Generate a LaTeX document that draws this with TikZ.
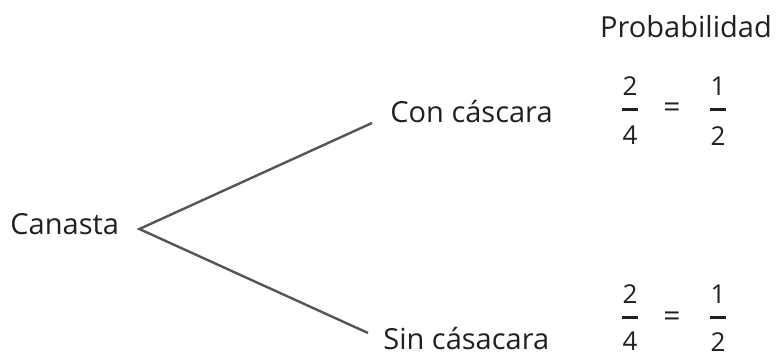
\documentclass[tikz,border=0pt]{standalone}
\usepackage{fontspec}
\setmainfont{Open Sans}
\usetikzlibrary{calc,positioning}
\definecolor{ctext}{HTML}{231F20}
\definecolor{cline}{HTML}{555555}

\begin{document}
\begin{tikzpicture}[
  x=0.5pt,y=-0.5pt,
  font=\fontsize{14.5}{17}\selectfont,
  lbl/.style={inner sep=0pt,text=ctext,anchor=base west},
  dig/.style={inner sep=0pt,text=ctext,font=\fontsize{13}{15}\selectfont},
  bar/.style={inner sep=0pt,fill=ctext,minimum width=8pt,minimum height=1.5pt},
  branch/.style={line width=1.2pt,cline}]
  \useasboundingbox (0,0) rectangle (776,357);
  % tree labels
  \node[lbl] (canasta) at (10,235) {Canasta};
  \node[lbl] (con) at (390,123) {Con cáscara};
  \node[lbl] (sin) at (383,350) {Sin cásacara};
  \node[lbl,anchor=base] (prob) at (686,38) {Probabilidad};
  % branches
  \coordinate (root) at ($(canasta.base east)+(20,-6)$);
  \draw[branch] ($(con.base west)+(-18,0)$) -- (root) -- ($(sin.base west)+(-15,-17)$);
  % upper probability
  \node[bar] (b1) at (630,110) {};
  \node[dig,above=6pt of b1] (n1) {2};
  \node[dig,below=7pt of b1] (d1) {4};
  \node[dig,font=\fontsize{15}{15}\selectfont] (eq1) at (672,110) {=};
  \node[bar] (b2) at (718,110) {};
  \node[dig,above=6pt of b2] (n2) {1};
  \node[dig,below=7pt of b2] (d2) {2};
  % lower probability
  \node[bar] (b3) at (630,318) {};
  \node[dig,above=6pt of b3] (n3) {2};
  \node[dig,below=6pt of b3] (d3) {4};
  \node[dig,font=\fontsize{15}{15}\selectfont] (eq2) at (672,319) {=};
  \node[bar] (b4) at (718,318) {};
  \node[dig,above=6pt of b4] (n4) {1};
  \node[dig,below=6pt of b4] (d4) {2};
\end{tikzpicture}
\end{document}
